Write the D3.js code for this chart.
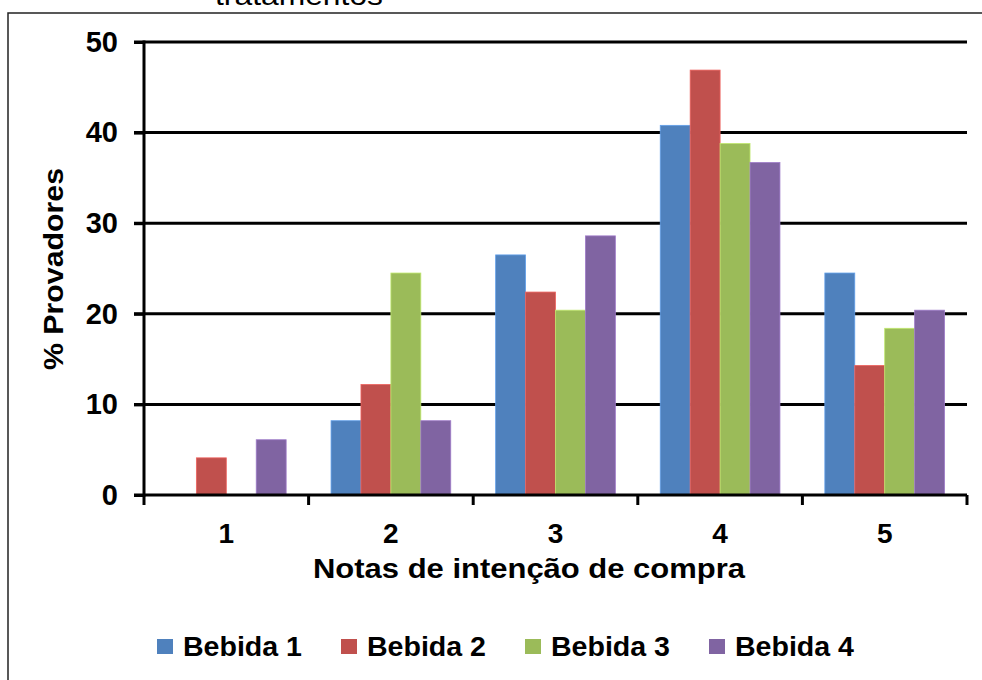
<!DOCTYPE html>
<html>
<head>
<meta charset="utf-8">
<script src="https://cdn.jsdelivr.net/npm/d3@7"></script>
<style>
  html, body { margin: 0; padding: 0; background: #fff; }
  svg { display: block; }
  text { font-family: "Liberation Sans", Arial, sans-serif; fill: #000; }
</style>
</head>
<body>
<svg id="chart" width="982" height="680"></svg>
<script>
// ---- data ----
const categories = ["1", "2", "3", "4", "5"];
const seriesNames = ["Bebida 1", "Bebida 2", "Bebida 3", "Bebida 4"];
const bebida1 = [0, 8.2, 26.5, 40.8, 24.5];
const bebida2 = [4.1, 12.2, 22.4, 46.9, 14.3];
const bebida3 = [0, 24.5, 20.4, 38.8, 18.4];
const bebida4 = [6.1, 8.2, 28.6, 36.7, 20.4];
const yTicks = [0, 10, 20, 30, 40, 50];
const colors = ["#4F81BD", "#C0504D", "#9BBB59", "#8064A2"];
const titleFragment = "tratamentos";
const xTitle = "Notas de intenção de compra";
const yTitle = "% Provadores";

const seriesValues = [bebida1, bebida2, bebida3, bebida4];

// ---- layout ----
const svg = d3.select("#chart");
const plot = { left: 144, right: 967, top: 42, bottom: 495 };

// outer frame (right/bottom sides lie outside the viewport)
svg.append("rect")
  .attr("x", 8).attr("y", 13)
  .attr("width", 1000).attr("height", 700)
  .attr("fill", "none").attr("stroke", "#222").attr("stroke-width", 1.5);

// clipped title fragment at very top
svg.append("text")
  .attr("x", 215).attr("y", 5)
  .attr("font-size", 28)
  .attr("textLength", 168).attr("lengthAdjust", "spacingAndGlyphs")
  .text(titleFragment);

const x = d3.scaleBand().domain(categories).range([plot.left, plot.right]).paddingInner(0).paddingOuter(0);
const xs = d3.scaleBand().domain(seriesNames).range([0, x.bandwidth()]).paddingInner(0).paddingOuter(0.75);
const y = d3.scaleLinear().domain([0, 50]).range([plot.bottom, plot.top]);

// gridlines
svg.append("g").selectAll("line").data(yTicks.filter(d => d > 0)).join("line")
  .attr("x1", plot.left - 10).attr("x2", plot.right)
  .attr("y1", d => y(d)).attr("y2", d => y(d))
  .attr("stroke", "#000").attr("stroke-width", 3);

// bars
const rows = [];
seriesValues.forEach((vals, si) => {
  vals.forEach((v, ci) => rows.push({ s: seriesNames[si], c: categories[ci], v, color: colors[si] }));
});
svg.append("g").selectAll("rect").data(rows.filter(d => d.v > 0)).join("rect")
  .attr("x", d => x(d.c) + xs(d.s))
  .attr("width", xs.bandwidth())
  .attr("y", d => y(d.v))
  .attr("height", d => y(0) - y(d.v))
  .attr("fill", d => d.color)
  .attr("stroke", d => d3.color(d.color).brighter(0.6))
  .attr("stroke-width", 0.8);

// y axis
const yAxis = svg.append("g").attr("transform", `translate(${plot.left},0)`)
  .call(d3.axisLeft(y).tickValues(yTicks).tickSize(10).tickPadding(16).tickFormat(d3.format("d")));
yAxis.select(".domain").attr("stroke", "#000").attr("stroke-width", 3).attr("d", `M0,${plot.bottom + 1.5}V${plot.top - 1.5}`);
yAxis.selectAll(".tick line").attr("stroke", "#000").attr("stroke-width", 3);
yAxis.selectAll(".tick text").attr("font-size", 29).attr("font-weight", "bold").attr("fill", "#000")
  .attr("font-family", "'Liberation Sans', Arial, sans-serif");

// x axis
const catBoundaries = categories.map(c => x(c)).concat([plot.right]);
const xAxis = svg.append("g");
xAxis.append("line")
  .attr("x1", plot.left - 10).attr("x2", plot.right)
  .attr("y1", plot.bottom).attr("y2", plot.bottom)
  .attr("stroke", "#000").attr("stroke-width", 3);
xAxis.selectAll("line.tk").data(catBoundaries).join("line").attr("class", "tk")
  .attr("x1", d => d).attr("x2", d => d)
  .attr("y1", plot.bottom).attr("y2", plot.bottom + 10)
  .attr("stroke", "#000").attr("stroke-width", 3);
xAxis.selectAll("text").data(categories).join("text")
  .attr("x", d => x(d) + x.bandwidth() / 2)
  .attr("y", 543)
  .attr("text-anchor", "middle")
  .attr("font-size", 28).attr("font-weight", "bold")
  .text(d => d);

// axis titles
svg.append("text")
  .attr("x", 313).attr("y", 578)
  .attr("font-size", 27).attr("font-weight", "bold")
  .attr("textLength", 432).attr("lengthAdjust", "spacingAndGlyphs")
  .text(xTitle);

svg.append("text")
  .attr("transform", "translate(63,370) rotate(-90)")
  .attr("x", 0).attr("y", 0)
  .attr("font-size", 28).attr("font-weight", "bold")
  .attr("textLength", 202).attr("lengthAdjust", "spacingAndGlyphs")
  .text(yTitle);

// legend
const legend = svg.append("g");
const legItems = legend.selectAll("g").data(seriesNames).join("g")
  .attr("transform", (d, i) => `translate(${157 + i * 184},0)`);
legItems.append("rect")
  .attr("x", 0).attr("y", 639).attr("width", 16).attr("height", 15)
  .attr("fill", (d, i) => colors[i]);
legItems.append("text")
  .attr("x", 26).attr("y", 656)
  .attr("font-size", 27).attr("font-weight", "bold")
  .attr("textLength", 119).attr("lengthAdjust", "spacingAndGlyphs")
  .text(d => d);
</script>
</body>
</html>
